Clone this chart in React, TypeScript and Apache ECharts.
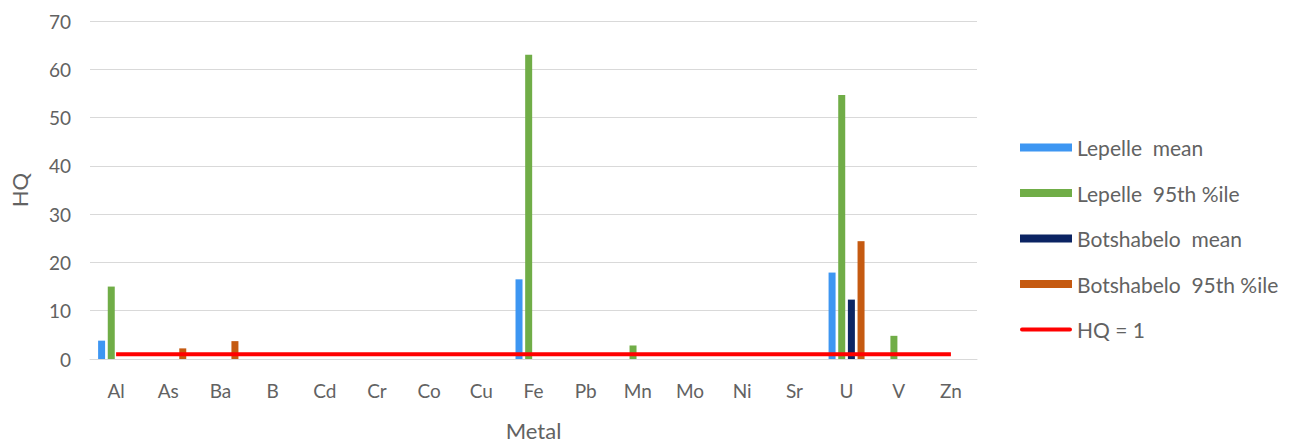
import React, { useEffect, useRef } from "react";
import * as echarts from "echarts";

const categories = ["Al", "As", "Ba", "B", "Cd", "Cr", "Co", "Cu", "Fe", "Pb", "Mn", "Mo", "Ni", "Sr", "U", "V", "Zn"];
const lepelleMean = [3.8, 0, 0, 0, 0, 0, 0, 0, 16.5, 0, 0, 0, 0, 0, 17.9, 0, 0];
const lepelle95 = [15, 0, 0, 0, 0, 0, 0, 0, 63, 0, 2.8, 0, 0, 0, 54.7, 4.8, 0];
const botshabeloMean = [0, 0, 0, 0, 0, 0, 0, 0, 0, 0, 0, 0, 0, 0, 12.3, 0, 0];
const botshabelo95 = [0, 2.2, 3.7, 0, 0, 0, 0, 0, 0, 0, 0, 0, 0, 0, 24.4, 0, 0];
const hqThreshold = [1, 1, 1, 1, 1, 1, 1, 1, 1, 1, 1, 1, 1, 1, 1, 1, 1];
const yTicks = { min: 0, max: 70, interval: 10 };

const FONT = "Lato";
const TEXT = "#626262";

export default function App() {
  const ref = useRef<HTMLDivElement>(null);
  useEffect(() => {
    if (!ref.current) return;
    const chart = echarts.init(ref.current, null, { renderer: "svg" });
    const bar = (name: string, data: number[], color: string) => ({
      name,
      type: "bar",
      data,
      barWidth: 7,
      barGap: "38%",
      itemStyle: { color },
    });
    chart.setOption({
      animation: false,
      backgroundColor: "#ffffff",
      textStyle: { fontFamily: FONT },
      grid: { left: 89, right: 328, top: 21, bottom: 86 },
      legend: {
        orient: "vertical",
        left: 1015,
        top: 132,
        itemWidth: 52,
        itemHeight: 8,
        itemGap: 24.5,
        textStyle: { color: TEXT, fontSize: 21, fontFamily: FONT },
        data: [
          { name: "Lepelle  mean", icon: "rect" },
          { name: "Lepelle  95th %ile", icon: "rect" },
          { name: "Botshabelo  mean", icon: "rect" },
          { name: "Botshabelo  95th %ile", icon: "rect" },
          { name: "HQ = 1", icon: "path://M2,2 L50,2 A2,2 0 0 1 50,6 L2,6 A2,2 0 0 1 2,2 Z M0,0 L0,0.01 Z M52,8 L52,7.99 Z" },
        ],
      },
      xAxis: {
        type: "category",
        data: categories,
        name: "Metal",
        nameLocation: "middle",
        nameGap: 60,
        nameTextStyle: { color: TEXT, fontSize: 22, fontFamily: FONT },
        axisLine: { show: true, lineStyle: { color: "#d9d9d9" } },
        axisTick: { show: false },
        axisLabel: { color: TEXT, fontSize: 19, fontFamily: FONT, margin: 22 },
      },
      yAxis: {
        type: "value",
        min: yTicks.min,
        max: yTicks.max,
        interval: yTicks.interval,
        name: "HQ",
        nameLocation: "middle",
        nameGap: 60,
        nameTextStyle: { color: TEXT, fontSize: 22, fontFamily: FONT },
        axisLine: { show: false },
        axisTick: { show: false },
        axisLabel: { color: TEXT, fontSize: 19, fontFamily: FONT, margin: 19 },
        splitLine: { lineStyle: { color: "#d9d9d9", width: 1 } },
      },
      series: [
        bar("Lepelle  mean", lepelleMean, "#3d96f2"),
        bar("Lepelle  95th %ile", lepelle95, "#70ad47"),
        bar("Botshabelo  mean", botshabeloMean, "#0b2463"),
        bar("Botshabelo  95th %ile", botshabelo95, "#c55a11"),
        {
          name: "HQ = 1",
          type: "line",
          data: hqThreshold,
          symbol: "none",
          showSymbol: false,
          lineStyle: { color: "#ff0000", width: 4 },
          itemStyle: { color: "#ff0000" },
          z: 5,
        },
      ],
    });
    return () => chart.dispose();
  }, []);
  return (
    <div
      ref={ref}
      style={{ position: "fixed", left: 0, top: 0, width: 1305, height: 446 }}
    />
  );
}
